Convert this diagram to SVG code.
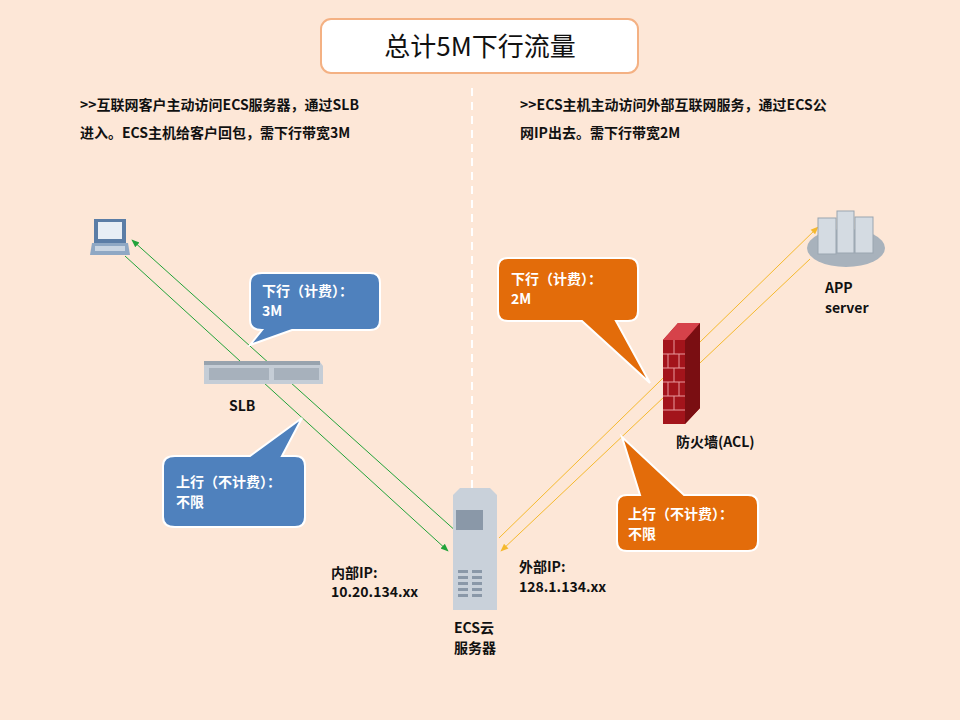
<svg xmlns="http://www.w3.org/2000/svg" width="960" height="720" viewBox="0 0 960 720">
<defs>
<style>
text{font-family:"Noto Sans CJK SC","Liberation Sans",sans-serif;font-weight:bold;font-size:14px;fill:#111}
.w{fill:#fff;font-size:14px}
.g{stroke:#22a33a;stroke-width:1;fill:none}
.o{stroke:#f5b92e;stroke-width:1;fill:none}
.blue{fill:#4f81bd;stroke:#fff;stroke-width:2}
.org{fill:#e36c0a;stroke:#fff;stroke-width:2}
</style>
<marker id="ag" viewBox="0 0 10 10" refX="9" refY="5" markerWidth="8" markerHeight="8" orient="auto"><path d="M0,1 L10,5 L0,9z" fill="#22a33a"/></marker>
<marker id="ao" viewBox="0 0 10 10" refX="9" refY="5" markerWidth="8" markerHeight="8" orient="auto"><path d="M0,1 L10,5 L0,9z" fill="#f5b92e"/></marker>
</defs>
<rect width="960" height="720" fill="#fde7d7"/>
<line x1="472" y1="88" x2="472" y2="535" stroke="#fff" stroke-width="2" stroke-dasharray="8,6"/>
<g id="title"><rect x="321" y="19" width="317" height="54" rx="10" fill="#fff" stroke="#f4b183" stroke-width="2"/>
<text x="480" y="56" text-anchor="middle" style="font-weight:normal;font-size:26px">总计5M下行流量</text></g>
<g id="desc">
<text x="80" y="110">&gt;&gt;互联网客户主动访问ECS服务器，通过SLB</text>
<text x="80" y="138">进入。ECS主机给客户回包，需下行带宽3M</text>
<text x="520" y="110">&gt;&gt;ECS主机主动访问外部互联网服务，通过ECS公</text>
<text x="520" y="138">网IP出去。需下行带宽2M</text>
</g>
<g id="connectors">
<line class="g" x1="458" y1="533" x2="132" y2="240" marker-end="url(#ag)"/>
<line class="g" x1="125" y1="256" x2="448" y2="551" marker-end="url(#ag)"/>
<line class="o" x1="499" y1="538" x2="818" y2="227" marker-end="url(#ao)"/>
<line class="o" x1="810" y1="259" x2="501" y2="551" marker-end="url(#ao)"/>
</g>
<g id="laptop">
<rect x="94" y="219" width="32" height="24" fill="#5b7da6"/><rect x="98" y="222" width="24" height="17" fill="#e8eef5"/>
<path d="M92,243 H128 L130,255 H90z" fill="#8fa8c4"/><rect x="95" y="246" width="30" height="5" fill="#c9d5e2"/>
</g>
<g id="slb">
<path d="M204,362 H320 L323,366 V384 H204z" fill="#c5cdd6"/><rect x="204" y="361" width="116" height="4" fill="#98a3ae"/>
<rect x="209" y="368" width="60" height="12" fill="#a7b1bc"/><rect x="274" y="368" width="45" height="12" fill="#a7b1bc"/>
<text x="229" y="411">SLB</text>
</g>
<g id="ecs">
<path d="M453,495 L460,488 H490 L497,495 V610 H453z" fill="#c9d1da"/>
<rect x="456" y="510" width="27" height="20" fill="#8a98a8"/>
<g fill="#8a98a8"><rect x="458" y="570" width="10" height="3"/><rect x="472" y="570" width="10" height="3"/><rect x="458" y="576" width="10" height="3"/><rect x="472" y="576" width="10" height="3"/><rect x="458" y="582" width="10" height="3"/><rect x="472" y="582" width="10" height="3"/><rect x="458" y="588" width="10" height="3"/><rect x="472" y="588" width="10" height="3"/><rect x="458" y="594" width="10" height="3"/><rect x="472" y="594" width="10" height="3"/></g>
<text x="454" y="633">ECS云</text><text x="454" y="653">服务器</text>
<text x="331" y="578">内部IP:</text><text x="331" y="597">10.20.134.xx</text>
<text x="519" y="572">外部IP:</text><text x="519" y="592">128.1.134.xx</text>
</g>
<g id="firewall">
<path d="M663,340 L678,323 H700 V408 L685,424 H663z" fill="#a3141b"/>
<path d="M685,340 L700,323 V408 L685,424z" fill="#7a0e12"/>
<path d="M663,340 L678,323 H700 L685,340z" fill="#d6424a"/>
<g stroke="#e89a9e" stroke-width="1"><path d="M663,354 H685 M663,368 H685 M663,382 H685 M663,396 H685 M663,410 H685 M674,340 V354 M668,354 V368 M679,354 V368 M674,368 V382 M668,382 V396 M679,382 V396 M674,396 V410"/></g>
<text x="676" y="447">防火墙(ACL)</text>
</g>
<g id="app">
<ellipse cx="846" cy="248" rx="39" ry="19" fill="#a8b2bc"/>
<rect x="818" y="218" width="18" height="36" fill="#d4dbe2" stroke="#9aa5b0"/><rect x="837" y="211" width="17" height="42" fill="#d4dbe2" stroke="#9aa5b0"/><rect x="855" y="217" width="18" height="36" fill="#d4dbe2" stroke="#9aa5b0"/>
<text x="825" y="293">APP</text><text x="825" y="313">server</text>
</g>
<g id="c1"><path class="blue" d="M262,273 H370 Q380,273 380,283 V320 Q380,330 370,330 H292 L250,345 L262,330 Q250,330 250,320 V283 Q250,273 262,273z"/>
<text class="w" x="262" y="296">下行（计费）：</text><text class="w" x="262" y="316">3M</text></g>
<g id="c2"><path class="blue" d="M175,456 H250 L302,418 L282,456 H295 Q305,456 305,466 V517 Q305,527 295,527 H175 Q163,527 163,517 V466 Q163,456 175,456z"/>
<text class="w" x="176" y="487">上行（不计费）：</text><text class="w" x="176" y="507">不限</text></g>
<g id="c3"><path class="org" d="M508,258 H628 Q638,258 638,268 V311 Q638,321 628,321 H616 L650,383 L582,321 H508 Q498,321 498,311 V268 Q498,258 508,258z"/>
<text class="w" x="511" y="284">下行（计费）：</text><text class="w" x="511" y="304">2M</text></g>
<g id="c4"><path class="org" d="M627,495 H640 L622,437 L684,495 H748 Q758,495 758,505 V541 Q758,551 748,551 H627 Q617,551 617,541 V505 Q617,495 627,495z"/>
<text class="w" x="628" y="519">上行（不计费）：</text><text class="w" x="628" y="539">不限</text></g>
</svg>
